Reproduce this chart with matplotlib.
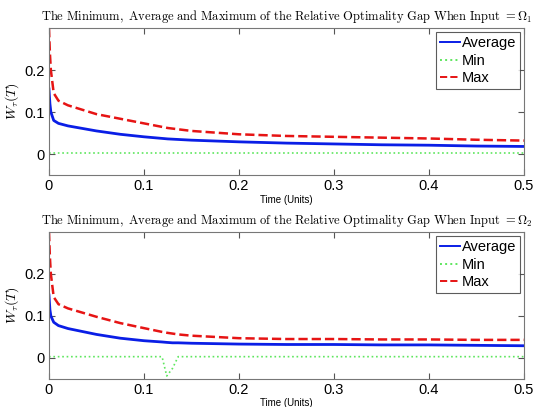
import numpy as np
import matplotlib
matplotlib.use("Agg")
import matplotlib.pyplot as plt

plt.rcParams['mathtext.fontset'] = 'cm'
plt.rcParams['font.family'] = ['Liberation Sans', 'DejaVu Sans']

#  values, panel 1 (Omega_1) and panel 2 (Omega_2)

t1 = [0.0, 0.001, 0.002, 0.005, 0.01, 0.02, 0.05, 0.075, 0.1, 0.125, 0.15, 0.2, 0.25, 0.3, 0.35, 0.4, 0.45, 0.5]
avg1 = [0.155, 0.12, 0.10, 0.08, 0.073, 0.067, 0.055, 0.047, 0.041, 0.036, 0.033, 0.029, 0.026, 0.024, 0.022, 0.021, 0.019, 0.018]
min1 = [0.003] * len(t1)
max1 = [0.30, 0.24, 0.20, 0.145, 0.127, 0.116, 0.095, 0.084, 0.073, 0.062, 0.055, 0.047, 0.043, 0.041, 0.039, 0.037, 0.034, 0.032]

t2 = [0.0, 0.001, 0.002, 0.005, 0.01, 0.02, 0.05, 0.075, 0.1, 0.119, 0.124, 0.13, 0.136, 0.15, 0.2, 0.25, 0.3, 0.35, 0.4, 0.45, 0.5]
avg2 = [0.15, 0.115, 0.10, 0.085, 0.077, 0.07, 0.056, 0.047, 0.041, 0.038, 0.037, 0.036, 0.036, 0.035, 0.033, 0.032, 0.032, 0.031, 0.031, 0.030, 0.029]
min2 = [0.003, 0.003, 0.003, 0.003, 0.003, 0.003, 0.003, 0.003, 0.003, 0.003, -0.043, -0.025, 0.003, 0.003, 0.003, 0.003, 0.003, 0.003, 0.003, 0.003, 0.003]
max2 = [0.30, 0.24, 0.20, 0.145, 0.128, 0.118, 0.098, 0.083, 0.071, 0.062, 0.060, 0.058, 0.056, 0.053, 0.047, 0.045, 0.045, 0.044, 0.044, 0.043, 0.043]

panels = [(t1, avg1, min1, max1, r'\Omega_1'), (t2, avg2, min2, max2, r'\Omega_2')]

fig = plt.figure(figsize=(5.38, 4.07), dpi=100)
boxes = [[0.091, 0.570, 0.883, 0.361], [0.091, 0.069, 0.883, 0.361]]

for box, (t, avg, mn, mx, om) in zip(boxes, panels):
    ax = fig.add_axes(box)
    ax.plot(t, avg, color='#0a1ee6', linewidth=2, label='Average')
    ax.plot(t, mn, color='#5ee65e', linewidth=1.2, linestyle=':', label='Min')
    ax.plot(t, mx, color='#e61414', linewidth=1.8, linestyle='--', label='Max')
    ax.set_xlim(0, 0.5)
    ax.set_ylim(-0.05, 0.3)
    ax.set_xticks([0, 0.1, 0.2, 0.3, 0.4, 0.5])
    ax.set_xticklabels(['0', '0.1', '0.2', '0.3', '0.4', '0.5'])
    ax.set_yticks([0, 0.1, 0.2])
    ax.set_yticklabels(['0', '0.1', '0.2'])
    ax.tick_params(direction='in', top=True, right=True, labelsize=10.5, length=4, color='#555555', pad=3)
    for s in ax.spines.values():
        s.set_color('#777777')
        s.set_linewidth(0.8)
    ax.set_ylabel(r'$W_\tau(T)$', fontsize=10)
    ax.yaxis.set_label_coords(-0.058, 0.5)
    ax.set_xlabel('Time (Units)', fontsize=7, labelpad=1)
    title = (r'$\mathrm{The\ Minimum,\ Average\ and\ Maximum\ of\ the\ Relative\ Optimality\ Gap\ When\ Input\ {=}}'
             + om + '$')
    ax.set_title(title, fontsize=9.0, pad=6)
    leg = ax.legend(loc='upper right', fontsize=10.5, frameon=True, fancybox=False,
                    handlelength=1.4, handletextpad=0.1, borderpad=0.25, labelspacing=0.25,
                    borderaxespad=0.3)
    for h in leg.get_lines():
        h.set_linewidth(1.4)
    leg.get_frame().set_edgecolor('#333333')
    leg.get_frame().set_linewidth(0.8)

fig.savefig('out.png', dpi=100)
